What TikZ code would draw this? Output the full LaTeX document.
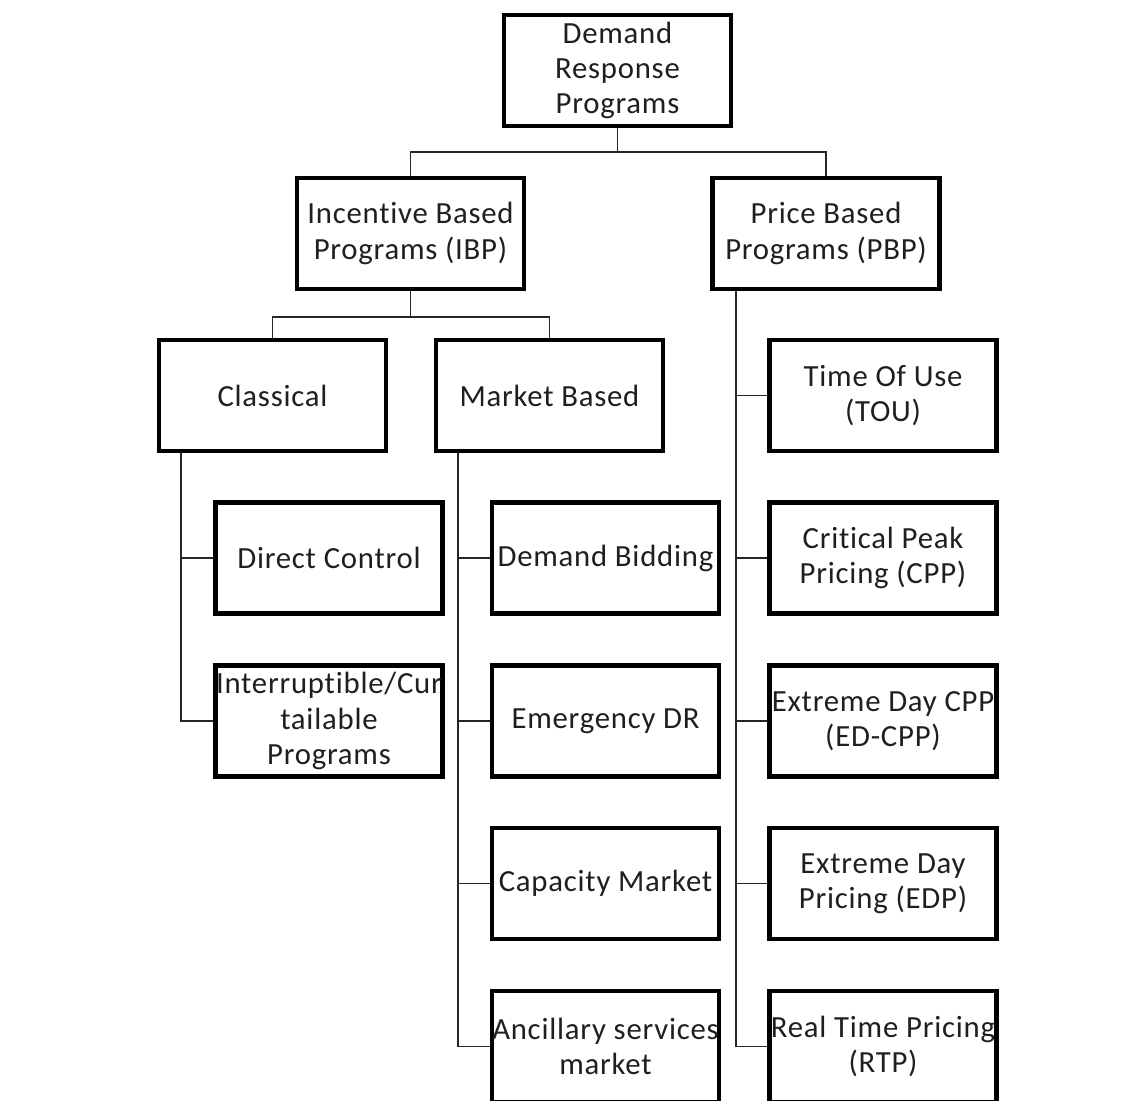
\documentclass[tikz,border=0pt]{standalone}
\usepackage{fontspec}
\setmainfont{Carlito}[LetterSpace=2.5, Ligatures=NoCommon]

\begin{document}
\begin{tikzpicture}[
    box/.style={draw=black, fill=white, line width=0.085cm, minimum width=4.54cm,
      minimum height=2.22cm, inner sep=0pt, align=center, text=black!88,
      font=\fontsize{17.5}{20}\selectfont},
    link/.style={draw=black!85, line width=1.1pt}]
    \pgfsetxvec{\pgfpoint{0.02cm}{0}}
    \pgfsetyvec{\pgfpoint{0}{-0.02cm}}

    \useasboundingbox (0,0) rectangle (1143,1100);
    \clip (0,0) rectangle (1143,1100);

    \node[box] (root) at (617.5,70.5) {Demand\\Response\\Programs};
    \node[box] (ibp) at (410.5,233.5) {Incentive Based\\Programs (IBP)};
    \node[box] (pbp) at (826,233.5) {Price Based\\Programs (PBP)};
    \node[box] (classical) at (272.5,395.5) {Classical};
    \node[box] (market) at (549.5,395.5) {Market Based};
    \foreach \n/\y/\t in {direct/558/Direct Control,
                         interrupt/721/{Interruptible/Cur\\tailable\\Programs}} {
      \node[box] (\n) at (329,\y) {\t};
    }
    \foreach \n/\y/\t in {bidding/558/Demand Bidding, emergency/721/Emergency DR,
                         capacity/883.5/Capacity Market,
                         ancillary/1046.5/{Ancillary services\\market}} {
      \node[box] (\n) at (605.5,\y) {\t};
    }
    \foreach \n/\y/\t in {tou/395.5/{Time Of Use\\(TOU)},
                         cpp/558/{Critical Peak\\Pricing (CPP)},
                         edcpp/721/{Extreme Day CPP\\(ED-CPP)},
                         edp/883.5/{Extreme Day\\Pricing (EDP)},
                         rtp/1046.5/{Real Time Pricing\\(RTP)}} {
      \node[box] (\n) at (883,\y) {\t};
    }

    % tree connectors
    \draw[link] (root.south) -- ++(0,24) -| (ibp.north);
    \draw[link] (root.south) -- ++(0,24) -| (pbp.north);
    \draw[link] (ibp.south) -- ++(0,26) -| (classical.north);
    \draw[link] (ibp.south) -- ++(0,26) -| (market.north);

    \coordinate (clbus) at (181,453);
    \coordinate (mkbus) at (458,453);
    \coordinate (pbbus) at (736,291);
    \foreach \n in {direct,interrupt} {
      \draw[link] (clbus) |- (\n.west);
    }
    \foreach \n in {bidding,emergency,capacity,ancillary} {
      \draw[link] (mkbus) |- (\n.west);
    }
    \foreach \n in {tou,cpp,edcpp,edp,rtp} {
      \draw[link] (pbbus) |- (\n.west);
    }
  \end{tikzpicture}
\end{document}
